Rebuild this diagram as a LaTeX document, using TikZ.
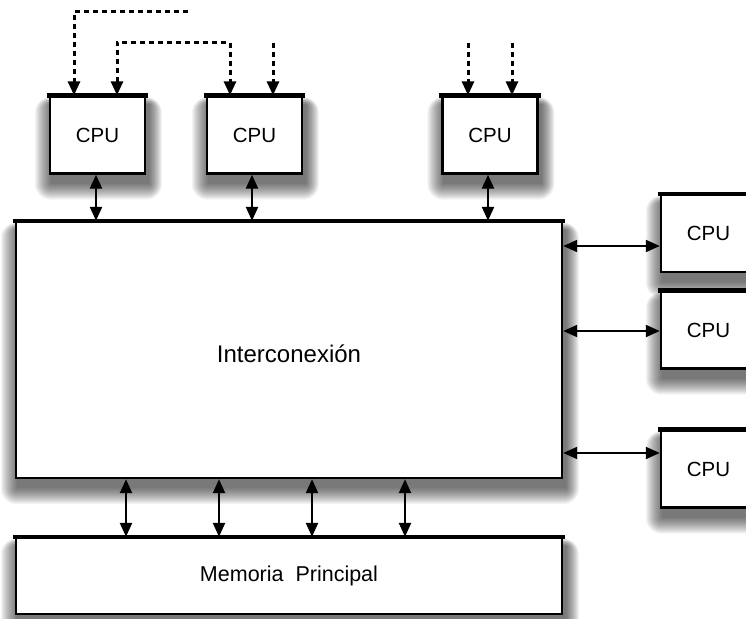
\documentclass[tikz,border=0pt]{standalone}
\usepackage{fontspec}
\setmainfont{Liberation Sans}
\usetikzlibrary{arrows.meta,backgrounds,calc}

\tikzset{
  unit/.style={draw=black, line width=2.4pt, fill=white, inner sep=0pt},
  cpu/.style={unit, minimum width=95pt, minimum height=77pt,
    font=\fontsize{20.5}{24}\selectfont},
  topedge/.style={line width=4.5pt, line cap=rect},
  head/.tip={Triangle[length=14pt,width=12pt]},
  link/.style={line width=2.4pt, head-head},
  sidelink/.style={line width=2pt, head-head},
  signal/.style={line width=3pt, dash pattern=on 5pt off 4pt, -head},
  haze/.style={fill=black, fill opacity=0.045},
}

% soft drop shadow under a named box, built from stacked translucent layers;
% it spreads mostly downwards and to the sides
\newcommand\softshadow[1]{%
  \foreach \r in {16,15,...,0}{
    \fill[haze, rounded corners=\r pt]
      ($(#1.south west)+(2pt-\r pt,-9pt-\r pt)$) rectangle
      ($(#1.north east)+(3pt+0.8*\r pt,-9pt+0.45*\r pt)$);
  }}

\begin{document}
\begin{tikzpicture}[x=1pt,y=1pt]
  \useasboundingbox (0,0) rectangle (746,-618);

  % processors along the top
  \node[cpu] (c1) at (97.5,-135) {CPU};
  \node[cpu] (c2) at (254.5,-135) {CPU};
  \node[cpu] (c3) at (490,-135) {CPU};

  % processors on the right
  \node[cpu] (c4) at (708.5,-233.5) {CPU};
  \node[cpu] (c5) at (708.5,-330) {CPU};
  \node[cpu] (c6) at (708.5,-469) {CPU};

  % interconnect and main memory
  \node[unit, minimum width=546pt, minimum height=256pt] (inter) at (289,-350) {};
  \node[font=\fontsize{24}{28}\selectfont] (intertxt) at (289,-354) {Interconexión};
  \node[unit, minimum width=546pt, minimum height=76pt,
        font=\fontsize{21.5}{25}\selectfont] (mem) at (289,-576) {Memoria\ \ Principal};

  % shadows behind every box
  \begin{scope}[on background layer]
    \foreach \n in {c1,c2,c3,c4,c5,c6,inter,mem}{\softshadow{\n}}
  \end{scope}

  % heavier upper edges of the boxes
  \foreach \n in {c1,c2,c3,c4,c5,c6,mem,inter}
    \draw[topedge] (\n.north west) -- (\n.north east);

  % processor <-> interconnect
  \foreach \n/\dx in {c1/-1.5, c2/-2.5, c3/-2}
    \draw[link] ([xshift=\dx pt]\n.south) -- ([xshift=\dx pt]\n.south |- inter.north);

  \draw[sidelink] ([yshift=-12.5pt]c4.west -| inter.east) -- ([yshift=-12.5pt]c4.west);
  \draw[sidelink] ([yshift=-1pt]c5.west -| inter.east) -- ([yshift=-1pt]c5.west);
  \draw[sidelink] ([yshift=16pt]c6.west -| inter.east) -- ([yshift=16pt]c6.west);

  % interconnect <-> memory
  \foreach \x in {-163,-70,23,116}
    \draw[link] ([xshift=\x pt]inter.south) -- ([xshift=\x pt]mem.north);

  % signal lines entering the processors
  \coordinate (s1) at (188,-12);
  \coordinate (s2) at (273,-43);
  \coordinate (s3) at (468,-43);
  \coordinate (s4) at (512,-43);

  \draw[signal] (s1) -| ([xshift=-23.5pt]c1.north);
  \draw[signal, head-head]
    ([xshift=19.5pt]c1.north) -- ++(0,53) -| ([xshift=-24.5pt]c2.north);
  \draw[signal] (s2) -- (s2 |- c2.north);
  \draw[signal] (s3) -- (s3 |- c3.north);
  \draw[signal] (s4) -- (s4 |- c3.north);
\end{tikzpicture}
\end{document}
